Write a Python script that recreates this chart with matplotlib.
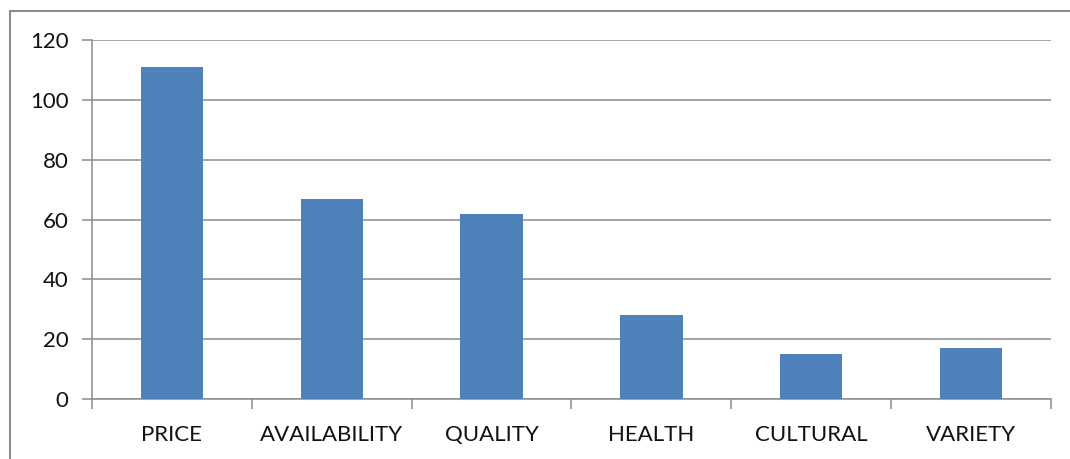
import numpy as np
import matplotlib.pyplot as plt
from matplotlib.patches import Rectangle

categories = ['PRICE', 'AVAILABILITY', 'QUALITY', 'HEALTH', 'CULTURAL', 'VARIETY']
values = [111, 67, 62, 28, 15, 17]
yticks = [0, 20, 40, 60, 80, 100, 120]

plt.rcParams['font.family'] = ['Lato', 'DejaVu Sans']

fig = plt.figure(figsize=(10.7, 4.59), dpi=100)
ax = fig.add_axes([92 / 1070, 1 - 399 / 459, (1051 - 92) / 1070, (399 - 40) / 459])

grid_col = '#8c8c8c'
x = np.arange(len(categories))
ax.bar(x, values, width=0.39, color='#4f81bd', zorder=3)

ax.set_xlim(-0.5, len(categories) - 0.5)
ax.set_ylim(0, 120)
ax.set_yticks(yticks)
ax.yaxis.grid(True, color=grid_col, linewidth=1.1, zorder=0)

ax.set_xticks(x)
ax.set_xticklabels(categories, fontsize=16, color='#111111')
ax.set_xticks(np.arange(-0.5, len(categories)), minor=True)
ax.tick_params(axis='x', which='major', length=0, pad=19)
ax.tick_params(axis='x', which='minor', length=7, color=grid_col, width=1.1)
ax.tick_params(axis='y', length=7, color=grid_col, width=1.1, labelsize=16,
               labelcolor='#111111', pad=10)

for s in ['top', 'right']:
    ax.spines[s].set_visible(False)
for s in ['left', 'bottom']:
    ax.spines[s].set_color(grid_col)
    ax.spines[s].set_linewidth(1.1)

# outer chart border
fig.patches.append(Rectangle((10 / 1070, -0.02), 1.1, 1 - 11 / 459 + 0.02,
                             transform=fig.transFigure, fill=False,
                             edgecolor='#8c8c8c', linewidth=1.5))

fig.savefig('out.png', dpi=100)
